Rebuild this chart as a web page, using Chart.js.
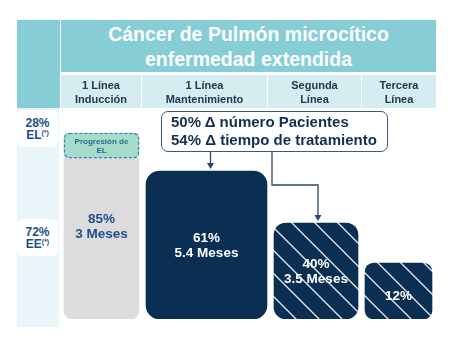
<!DOCTYPE html>
<html lang="es">
<head>
<meta charset="utf-8">
<script src="https://cdn.jsdelivr.net/npm/chart.js@4.4.0/dist/chart.umd.min.js"></script>
<style>
    body { margin: 0; width: 455px; height: 358px; background: #fff; position: relative; overflow: hidden;
           font-family: "Liberation Sans", Arial, sans-serif; font-weight: bold; }
    #grafico { position: absolute; left: 0; top: 0; z-index: 0; }
    .caja { position: absolute; z-index: 1; box-sizing: border-box; }
    #esquina { left: 17px; top: 20px; width: 43px; height: 88px; background: #86cdd6; }
    #titulo { left: 61px; top: 20px; width: 375px; height: 52px; background: #86cdd6; color: #fff;
              font-size: 19.5px; line-height: 25px; text-align: center; padding-top: 2px; }
    #columnas { left: 61px; top: 75px; height: 33px; display: flex; gap: 1px; }
    #columnas div { background: #d5ecf1; color: #22364e; font-size: 11px; line-height: 14px;
                    text-align: center; padding-top: 3px; box-sizing: border-box; }
    #lateral { left: 17px; top: 108px; width: 42px; height: 219px; background: #eaf5f9; }
    .grupo { left: 17px; width: 41px; height: 37px; background: #fff; border-radius: 6px;
             color: #1d4f8b; font-size: 12px; line-height: 12px; text-align: center; padding-top: 7px; }
    .grupo sup { font-size: 7px; vertical-align: 4px; line-height: 0; }
    #nota { left: 161px; top: 111px; width: 227px; height: 41px; background: #fff; border: 1.5px solid #3c5874;
            border-radius: 7px; color: #132f4f; font-size: 15px; line-height: 18px; padding: 1px 0 0 9px; }
</style>
</head>
<body>
<canvas id="grafico" width="455" height="358"></canvas>
<div class="caja" id="esquina"></div>
<div class="caja" id="titulo">Cáncer de Pulmón microcítico<br>enfermedad extendida</div>
<div class="caja" id="columnas"></div>
<div class="caja" id="lateral"></div>
<div class="caja grupo" id="grupo-el" style="top:110px"></div>
<div class="caja grupo" id="grupo-ee" style="top:219px"></div>
<div class="caja" id="nota"></div>
<script>
// Datos
const lineas = ['1 Línea\nInducción', '1 Línea\nMantenimiento', 'Segunda\nLínea', 'Tercera\nLínea'];
const porcentajes = [85, 61, 40, 12];
const meses = ['3', '5.4', '3.5', null];
const alturas = [77, 70.8, 45.9, 26.8];   // altura visual de cada columna (0-100)
const alturaProgresion = 12;              // recuadro "Progresión de EL" encima de la primera
const grupos = ['EL', 'EE'];
const gruposPct = [28, 72];
const deltaPacientes = 50;
const deltaTiempo = 54;

// Maquetación
const colAnchos = [80, 125, 93, 74];
const ajusteBarra = [0.5, 2, 1.5, -0.5];
const anchosBarra = [75, 121, 84, 67];
const azul = '#0a2f52';

// cabecera de columnas
const columnas = document.getElementById('columnas');
lineas.forEach((l, i) => {
    const d = document.createElement('div');
    d.style.width = colAnchos[i] + 'px';
    d.innerHTML = l.split('\n').join('<br>');
    columnas.appendChild(d);
});
grupos.forEach((g, i) => {
    document.getElementById('grupo-' + g.toLowerCase()).innerHTML = gruposPct[i] + '%<br>' + g + '<sup>(*)</sup>';
});
document.getElementById('nota').innerHTML =
    deltaPacientes + '% Δ número Pacientes<br>' + deltaTiempo + '% Δ tiempo de tratamiento';

// rayado diagonal blanco sobre azul
function crearRayado(fondo, linea, paso) {
    const c = document.createElement('canvas');
    c.width = paso; c.height = paso;
    const g = c.getContext('2d');
    g.fillStyle = fondo;
    g.fillRect(0, 0, paso, paso);
    g.strokeStyle = linea;
    g.lineWidth = 1.3;
    g.beginPath();
    g.moveTo(-1, -1); g.lineTo(paso + 1, paso + 1);
    g.moveTo(-1, paso - 1); g.lineTo(1, paso + 1);
    g.moveTo(paso - 1, -1); g.lineTo(paso + 1, 1);
    g.stroke();
    return g.createPattern(c, 'repeat');
}
const rayado = crearRayado(azul, '#e6ecf2', 23);

const rellenos = ['#dcdcdc', azul, rayado, rayado];
const radios = [{ topLeft: 0, topRight: 0, bottomLeft: 9, bottomRight: 9 }, 14, 12, 9];

// centro de cada columna en unidades del eje x (0-375)
let inicio = 0;
const centros = colAnchos.map((w, i) => {
    const c = inicio + w / 2 + ajusteBarra[i];
    inicio += w + 1;
    return c;
});

const datasets = lineas.map((l, i) => ({
    label: l.replace('\n', ' '),
    data: [{ x: centros[i], y: alturas[i] }],
    backgroundColor: rellenos[i],
    barThickness: anchosBarra[i],
    borderRadius: radios[i],
    borderSkipped: false,
    borderWidth: 0
}));
datasets.push({
    label: 'Progresión de EL',
    data: [{ x: centros[0], y: alturaProgresion }],
    backgroundColor: '#a6dccb',
    barThickness: anchosBarra[0],
    borderRadius: 5,
    borderSkipped: false,
    borderWidth: 0
});

function flecha(ctx, x, y) {
    ctx.beginPath();
    ctx.moveTo(x - 3.5, y - 6);
    ctx.lineTo(x + 3.5, y - 6);
    ctx.lineTo(x, y);
    ctx.closePath();
    ctx.fill();
}

const etiquetasPlugin = {
    id: 'etiquetas',
    afterDatasetsDraw(chart) {
        const ctx = chart.ctx;
        const prog = chart.getDatasetMeta(4).data[0];
        ctx.save();

        // borde punteado del recuadro de progresión
        ctx.strokeStyle = '#3a7bc8';
        ctx.lineWidth = 1.2;
        ctx.setLineDash([3, 2]);
        ctx.beginPath();
        ctx.roundRect(prog.x - prog.width / 2 + 0.5, prog.y + 0.5, prog.width - 1, prog.base - prog.y - 1, 5);
        ctx.stroke();
        ctx.setLineDash([]);
        ctx.fillStyle = '#2d6a8e';
        ctx.font = 'bold 8px "Liberation Sans", Arial';
        ctx.textAlign = 'center';
        ctx.textBaseline = 'middle';
        const cyProg = (prog.y + prog.base) / 2;
        ctx.fillText('Progresión de', prog.x, cyProg - 3.5);
        ctx.fillText('EL', prog.x, cyProg + 5);

        // textos de cada columna
        ctx.font = 'bold 13.5px "Liberation Sans", Arial';
        lineas.forEach((l, i) => {
            const bar = chart.getDatasetMeta(i).data[0];
            const arriba = i === 0 ? prog.y : bar.y;
            const cy = (arriba + bar.base) / 2 + 1;
            ctx.fillStyle = i === 0 ? '#1d4f8b' : '#ffffff';
            if (meses[i]) {
                ctx.fillText(porcentajes[i] + '%', bar.x, cy - 7.5);
                ctx.fillText(meses[i] + ' Meses', bar.x, cy + 7.5);
            } else {
                ctx.fillText(porcentajes[i] + '%', bar.x, cy + 4);
            }
        });

        // flechas desde la nota
        const b2 = chart.getDatasetMeta(1).data[0];
        const b3 = chart.getDatasetMeta(2).data[0];
        const notaAbajo = 152;
        ctx.strokeStyle = '#2d4866';
        ctx.fillStyle = '#2d4866';
        ctx.lineWidth = 1.3;
        ctx.beginPath();
        ctx.moveTo(b2.x + 4, notaAbajo);
        ctx.lineTo(b2.x + 4, b2.y - 6);
        ctx.moveTo(272, notaAbajo);
        ctx.lineTo(272, 185);
        ctx.lineTo(b3.x + 2, 185);
        ctx.lineTo(b3.x + 2, b3.y - 6);
        ctx.stroke();
        flecha(ctx, b2.x + 4, b2.y - 2);
        flecha(ctx, b3.x + 2, b3.y - 2);
        ctx.restore();
    }
};

new Chart(document.getElementById('grafico'), {
    type: 'bar',
    data: { datasets: datasets },
    options: {
        responsive: false,
        animation: false,
        layout: { padding: { left: 61, right: 19, top: 110, bottom: 39 } },
        plugins: {
            legend: { display: false },
            tooltip: { enabled: false }
        },
        scales: {
            x: { type: 'linear', min: 0, max: 375, offset: false, stacked: true, display: false },
            y: { min: 0, max: 100, stacked: true, display: false }
        }
    },
    plugins: [etiquetasPlugin]
});
</script>
</body>
</html>
